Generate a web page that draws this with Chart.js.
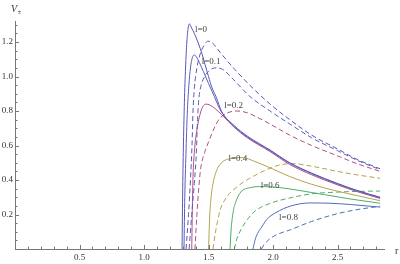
<!DOCTYPE html>
<html>
<head>
<meta charset="utf-8">
<script src="https://cdn.jsdelivr.net/npm/chart.js@4/dist/chart.umd.min.js"></script>
<style>
  html, body { margin: 0; padding: 0; background: #fff; }
  #wrap { width: 400px; height: 264px; }
</style>
</head>
<body>
<div id="wrap"><canvas id="potChart" width="400" height="264"></canvas></div>
<script>
// 축 눈금
const xTicks = [0.5, 1.0, 1.5, 2.0, 2.5];
const yTicks = [0.2, 0.4, 0.6, 0.8, 1.0, 1.2];

// l = 0 (실선 / 점선)
const r0Solid = [1.295, 1.300, 1.306, 1.313, 1.322, 1.332, 1.342, 1.352, 1.37, 1.39, 1.42, 1.45, 1.473, 1.50, 1.527, 1.56, 1.60, 1.70, 1.80, 1.977, 2.13, 2.30, 2.50, 2.65, 2.83];
const v0Solid = [0, 0.35, 0.62, 0.85, 1.05, 1.20, 1.28, 1.305, 1.28, 1.25, 1.195, 1.13, 1.07, 1.00, 0.935, 0.88, 0.80, 0.715, 0.655, 0.574, 0.50, 0.44, 0.38, 0.34, 0.30];
const r0Dash = [1.326, 1.345, 1.36, 1.372, 1.38, 1.39, 1.41, 1.435, 1.465, 1.496, 1.53, 1.59, 1.705, 1.82, 1.977, 2.13, 2.30, 2.50, 2.65, 2.83];
const v0Dash = [0, 0.2, 0.4, 0.6, 0.8, 0.93, 1.05, 1.13, 1.18, 1.205, 1.195, 1.14, 1.04, 0.95, 0.84, 0.75, 0.66, 0.58, 0.52, 0.465];

// l = 0.1
const r1Solid = [1.31, 1.316, 1.325, 1.335, 1.348, 1.36, 1.375, 1.39, 1.405, 1.43, 1.46, 1.50, 1.527, 1.60, 1.70, 1.80, 1.977, 2.13, 2.30, 2.50, 2.65, 2.83];
const v1Solid = [0, 0.3, 0.55, 0.78, 0.95, 1.05, 1.11, 1.125, 1.115, 1.08, 1.03, 0.96, 0.915, 0.795, 0.71, 0.65, 0.57, 0.497, 0.437, 0.377, 0.338, 0.298];
const r1Dash = [1.35, 1.37, 1.39, 1.405, 1.415, 1.425, 1.44, 1.47, 1.50, 1.55, 1.60, 1.69, 1.82, 1.977, 2.13, 2.30, 2.50, 2.65, 2.83];
const v1Dash = [0, 0.2, 0.38, 0.55, 0.75, 0.87, 0.94, 1.00, 1.03, 1.05, 1.045, 0.985, 0.885, 0.80, 0.725, 0.645, 0.57, 0.515, 0.46];

// l = 0.2
const r2Solid = [1.37, 1.375, 1.38, 1.39, 1.41, 1.434, 1.455, 1.48, 1.51, 1.55, 1.60, 1.70, 1.80, 1.977, 2.13, 2.30, 2.50, 2.65, 2.83];
const v2Solid = [0, 0.25, 0.42, 0.56, 0.69, 0.78, 0.825, 0.84, 0.835, 0.815, 0.78, 0.705, 0.645, 0.565, 0.49, 0.43, 0.372, 0.333, 0.293];
const r2Dash = [1.395, 1.41, 1.425, 1.44, 1.47, 1.50, 1.55, 1.59, 1.65, 1.72, 1.80, 1.90, 2.00, 2.13, 2.30, 2.50, 2.65, 2.83];
const v2Dash = [0, 0.2, 0.36, 0.47, 0.56, 0.62, 0.71, 0.76, 0.79, 0.80, 0.79, 0.755, 0.715, 0.66, 0.60, 0.54, 0.495, 0.45];

// l = 0.4
const r4Solid = [1.50, 1.51, 1.52, 1.535, 1.56, 1.60, 1.68, 1.77, 1.85, 1.98, 2.13, 2.30, 2.50, 2.65, 2.83];
const v4Solid = [0, 0.2, 0.3, 0.38, 0.45, 0.50, 0.525, 0.53, 0.51, 0.47, 0.42, 0.375, 0.335, 0.31, 0.28];
const r4Dash = [1.535, 1.55, 1.57, 1.59, 1.64, 1.72, 1.82, 1.95, 2.05, 2.15, 2.30, 2.50, 2.65, 2.83];
const v4Dash = [0, 0.08, 0.16, 0.226, 0.30, 0.36, 0.41, 0.46, 0.487, 0.495, 0.48, 0.45, 0.43, 0.41];

// l = 0.6
const r6Solid = [1.667, 1.675, 1.69, 1.71, 1.75, 1.82, 1.92, 2.05, 2.20, 2.40, 2.60, 2.83];
const v6Solid = [0, 0.11, 0.21, 0.27, 0.33, 0.355, 0.362, 0.356, 0.34, 0.315, 0.29, 0.265];
const r6Dash = [1.70, 1.72, 1.75, 1.80, 1.86, 1.98, 2.13, 2.30, 2.50, 2.65, 2.83];
const v6Dash = [0, 0.06, 0.11, 0.17, 0.22, 0.265, 0.296, 0.32, 0.33, 0.334, 0.336];

// l = 0.8
const r8Solid = [1.845, 1.86, 1.88, 1.915, 1.95, 2.02, 2.14, 2.29, 2.45, 2.60, 2.83];
const v8Solid = [0, 0.05, 0.09, 0.13, 0.17, 0.21, 0.25, 0.267, 0.265, 0.258, 0.243];
const r8Dash = [1.91, 1.93, 1.977, 2.05, 2.13, 2.30, 2.50, 2.65, 2.83];
const v8Dash = [0, 0.025, 0.06, 0.09, 0.11, 0.16, 0.205, 0.228, 0.248];

// 곡선 라벨
const curveLabels = ['l=0', 'l=0.1', 'l=0.2', 'l=0.4', 'l=0.6', 'l=0.8'];
const labelR = [1.442, 1.52, 1.694, 1.728, 1.977, 2.12];
const labelV = [1.27, 1.086, 0.829, 0.522, 0.365, 0.18];

const X_MAX = 2.868;
const Y_MAX = 1.322;

const COL = {
    l0: 'rgb(88,86,184)',
    l1: 'rgb(92,92,186)',
    l2: 'rgb(178,78,134)',
    l4: 'rgb(180,162,78)',
    l6: 'rgb(78,174,104)',
    l8: 'rgb(78,108,184)',
};

function pts(rs, vs) {
    return rs.map((r, i) => ({ x: r, y: vs[i] }));
}

function curve(rs, vs, color, dashed) {
    return {
        data: pts(rs, vs),
        borderColor: color,
        borderWidth: 1,
        borderDash: dashed ? [5, 3] : [],
        showLine: true,
        pointRadius: 0,
        fill: false,
        cubicInterpolationMode: 'monotone',
    };
}

// 축, 눈금, 라벨 그리기
const axesPlugin = {
    id: 'mmaAxes',
    afterDatasetsDraw(chart) {
        const ctx = chart.ctx;
        const xs = chart.scales.x;
        const ys = chart.scales.y;
        const x0 = xs.getPixelForValue(0);
        const y0 = ys.getPixelForValue(0);
        const xEnd = xs.getPixelForValue(X_MAX);
        const yTop = ys.getPixelForValue(Y_MAX);

        ctx.save();
        ctx.strokeStyle = '#777';
        ctx.lineWidth = 1;
        ctx.beginPath();
        ctx.moveTo(x0, y0 + 0.5);
        ctx.lineTo(xEnd, y0 + 0.5);
        ctx.moveTo(x0 + 0.5, y0);
        ctx.lineTo(x0 + 0.5, yTop);
        ctx.stroke();

        // x 눈금 (0.1 간격)
        ctx.beginPath();
        for (let i = 1; i <= 28; i++) {
            const px = Math.round(xs.getPixelForValue(i / 10)) + 0.5;
            const len = i % 5 === 0 ? 4 : 2.5;
            ctx.moveTo(px, y0);
            ctx.lineTo(px, y0 - len);
        }
        // y 눈금 (0.05 간격)
        for (let i = 1; i <= 26; i++) {
            const py = Math.round(ys.getPixelForValue(i * 0.05)) + 0.5;
            const len = i % 4 === 0 ? 4 : 2.5;
            ctx.moveTo(x0, py);
            ctx.lineTo(x0 + len, py);
        }
        ctx.stroke();

        ctx.fillStyle = '#333';
        ctx.font = '9px "Liberation Serif", serif';
        ctx.textAlign = 'center';
        ctx.textBaseline = 'top';
        xTicks.forEach(t => {
            ctx.fillText(t.toFixed(1), xs.getPixelForValue(t), y0 + 4);
        });
        ctx.textAlign = 'right';
        ctx.textBaseline = 'middle';
        yTicks.forEach(t => {
            ctx.fillText(t.toFixed(1), x0 - 2, ys.getPixelForValue(t));
        });

        // 축 이름
        ctx.font = 'italic 10px "Liberation Serif", serif';
        ctx.textAlign = 'left';
        ctx.textBaseline = 'alphabetic';
        ctx.fillText('V', 11, 12);
        ctx.font = '7px "Liberation Serif", serif';
        ctx.fillText('\u00b1', 17.5, 14);
        ctx.font = '10px "Liberation Serif", serif';
        ctx.fillText('r', 395, y0 + 5);

        // 곡선 라벨
        ctx.font = '9px "Liberation Serif", serif';
        ctx.fillStyle = '#444';
        ctx.textAlign = 'center';
        ctx.textBaseline = 'middle';
        curveLabels.forEach((txt, i) => {
            ctx.fillText(txt, xs.getPixelForValue(labelR[i]), ys.getPixelForValue(labelV[i]));
        });
        ctx.restore();
    },
};

const ctx = document.getElementById('potChart').getContext('2d');
new Chart(ctx, {
    type: 'scatter',
    data: {
        datasets: [
            curve(r0Solid, v0Solid, COL.l0, false),
            curve(r0Dash, v0Dash, COL.l0, true),
            curve(r1Solid, v1Solid, COL.l1, false),
            curve(r1Dash, v1Dash, COL.l1, true),
            curve(r2Solid, v2Solid, COL.l2, false),
            curve(r2Dash, v2Dash, COL.l2, true),
            curve(r4Solid, v4Solid, COL.l4, false),
            curve(r4Dash, v4Dash, COL.l4, true),
            curve(r6Solid, v6Solid, COL.l6, false),
            curve(r6Dash, v6Dash, COL.l6, true),
            curve(r8Solid, v8Solid, COL.l8, false),
            curve(r8Dash, v8Dash, COL.l8, true),
        ],
    },
    options: {
        responsive: false,
        animation: false,
        devicePixelRatio: 1,
        layout: { padding: { left: 15, right: 15, top: 21, bottom: 15 } },
        plugins: { legend: { display: false }, tooltip: { enabled: false } },
        scales: {
            x: { type: 'linear', min: 0, max: X_MAX, display: false },
            y: { type: 'linear', min: 0, max: Y_MAX, display: false },
        },
    },
    plugins: [axesPlugin],
});
</script>
</body>
</html>
